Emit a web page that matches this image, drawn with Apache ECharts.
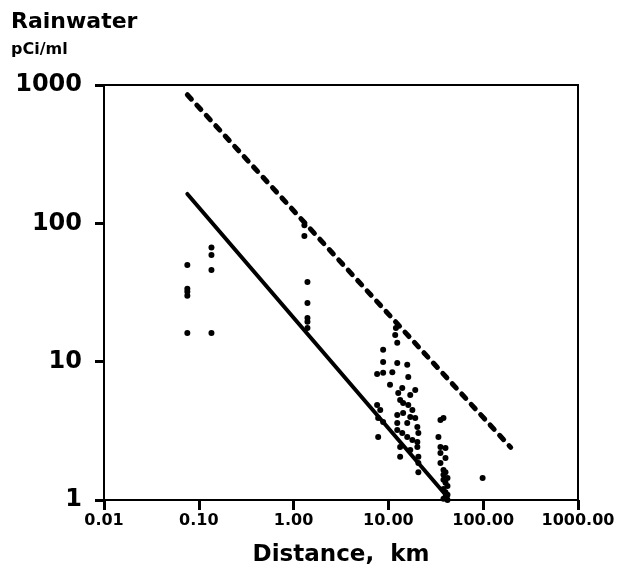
<!DOCTYPE html>
<html>
<head>
<meta charset="utf-8">
<script src="https://cdn.jsdelivr.net/npm/echarts@6/dist/echarts.min.js"></script>
<style>
html,body{margin:0;padding:0;background:#fff;}
#chart{width:623px;height:581px;}
</style>
</head>
<body>
<div id="chart"></div>
<script>
// ---- data ----
var xTickLabels = ['0.01', '0.10', '1.00', '10.00', '100.00', '1000.00'];
var yTickLabels = ['1', '10', '100', '1000'];

// measured rainwater samples: distance (km) and concentration (pCi/ml)
var sampleDistance = [
  0.0757, 0.0757, 0.0757, 0.0757, 0.0757,
  0.136, 0.136, 0.136, 0.136,
  1.3, 1.3, 1.4, 1.4, 1.4, 1.4, 1.4,
  12.0, 11.8, 12.4, 8.8, 8.8, 12.4, 15.8, 7.6, 8.8, 11.0, 16.2, 10.4, 14.0, 12.7, 13.3, 14.3,
  16.2, 17.9, 19.2, 17.0, 7.6, 8.2, 7.8, 8.8, 12.4, 14.3, 17.0, 19.2, 12.4, 15.8, 20.2, 7.8,
  12.4, 14.0, 15.8, 17.9, 20.2, 20.7, 13.3, 17.0, 20.2, 13.3, 20.7, 20.7, 20.7,
  38.1, 35.4, 33.7, 35.4, 40.0, 35.4, 40.0, 35.4, 38.1, 40.0, 38.1, 42.0, 38.1, 40.0, 42.0,
  38.1, 40.0, 42.0, 40.0, 38.1, 42.0,
  98.6
];
var sampleConcentration = [
  50, 33.6, 32, 30, 16.1,
  67, 59, 46, 16.1,
  97, 81, 37.7, 26.6, 20.7, 19.4, 17.5,
  17.5, 15.6, 13.7, 12.2, 9.95, 9.8, 9.5, 8.15, 8.3, 8.4, 7.75, 6.8, 6.45, 5.94, 5.28, 5.03,
  4.86, 4.48, 6.24, 5.74, 4.86, 4.48, 3.92, 3.66, 4.12, 4.26, 3.98, 3.92, 3.60, 3.60, 3.37, 2.85,
  3.21, 3.05, 2.85, 2.72, 2.63, 3.05, 2.42, 2.30, 2.42, 2.05, 2.05, 1.85, 1.59,
  3.92, 3.79, 2.85, 2.42, 2.38, 2.19, 2.01, 1.85, 1.65, 1.59, 1.52, 1.44, 1.40, 1.33, 1.26,
  1.20, 1.14, 1.09, 1.05, 1.02, 1.0,
  1.44
];

// fitted line (solid) and upper envelope (dashed)
var fitDistance = [0.0757, 42];
var fitConcentration = [163, 1.05];
var upperDistance = [0.0757, 195];
var upperConcentration = [850, 2.4];

function pairs(xs, ys) {
  var out = [];
  for (var i = 0; i < xs.length; i++) out.push([xs[i], ys[i]]);
  return out;
}

var xLabelMap = {};
[0.01, 0.1, 1, 10, 100, 1000].forEach(function (v, i) { xLabelMap[v] = xTickLabels[i]; });
var yLabelMap = {};
[1, 10, 100, 1000].forEach(function (v, i) { yLabelMap[v] = yTickLabels[i]; });

var FONT = 'DejaVu Sans';
var chart = echarts.init(document.getElementById('chart'), null, {renderer: 'canvas'});
chart.setOption({
  backgroundColor: '#ffffff',
  animation: false,
  grid: {
    left: 104, right: 45, top: 85, bottom: 81,
    show: true, borderColor: '#000', borderWidth: 2, backgroundColor: 'transparent'
  },
  xAxis: {
    type: 'log', logBase: 10, min: 0.01, max: 1000,
    name: 'Distance,  km', nameLocation: 'middle', nameGap: 44,
    nameTextStyle: {fontFamily: FONT, fontWeight: 'bold', fontSize: 23, color: '#000'},
    axisLine: {show: true, lineStyle: {color: '#000', width: 2}},
    axisTick: {show: true, inside: false, length: 10, lineStyle: {color: '#000', width: 3}},
    minorTick: {show: false},
    splitLine: {show: false},
    axisLabel: {
      margin: 13, fontFamily: FONT, fontWeight: 'bold', fontSize: 16, color: '#000',
      formatter: function (v) {
        var k = Math.round(Math.log10(v));
        return xLabelMap[Math.pow(10, k)] || '';
      }
    }
  },
  yAxis: {
    type: 'log', logBase: 10, min: 1, max: 1000,
    axisLine: {show: true, lineStyle: {color: '#000', width: 2}},
    axisTick: {show: true, inside: false, length: 9, lineStyle: {color: '#000', width: 3}},
    splitLine: {show: false},
    axisLabel: {
      margin: 22, fontFamily: FONT, fontWeight: 'bold', fontSize: 24, color: '#000',
      formatter: function (v) {
        var k = Math.round(Math.log10(v));
        return yLabelMap[Math.pow(10, k)] || '';
      }
    }
  },
  graphic: [
    {type: 'text', left: 11, top: 11,
     style: {text: 'Rainwater', font: 'bold 22px "DejaVu Sans"', fill: '#000'}},
    {type: 'text', left: 11, top: 42,
     style: {text: 'pCi/ml', font: 'bold 16px "DejaVu Sans"', fill: '#000'}}
  ],
  series: [
    {
      type: 'line', data: pairs(upperDistance, upperConcentration),
      symbol: 'none', silent: true,
      lineStyle: {color: '#000', width: 5, type: [6, 8], cap: 'round'}
    },
    {
      type: 'line', data: pairs(fitDistance, fitConcentration),
      symbol: 'none', silent: true,
      lineStyle: {color: '#000', width: 4, cap: 'round'}
    },
    {
      type: 'scatter', data: pairs(sampleDistance, sampleConcentration),
      symbol: 'circle', symbolSize: 6,
      itemStyle: {color: '#000', opacity: 1}
    }
  ]
});
</script>
</body>
</html>
